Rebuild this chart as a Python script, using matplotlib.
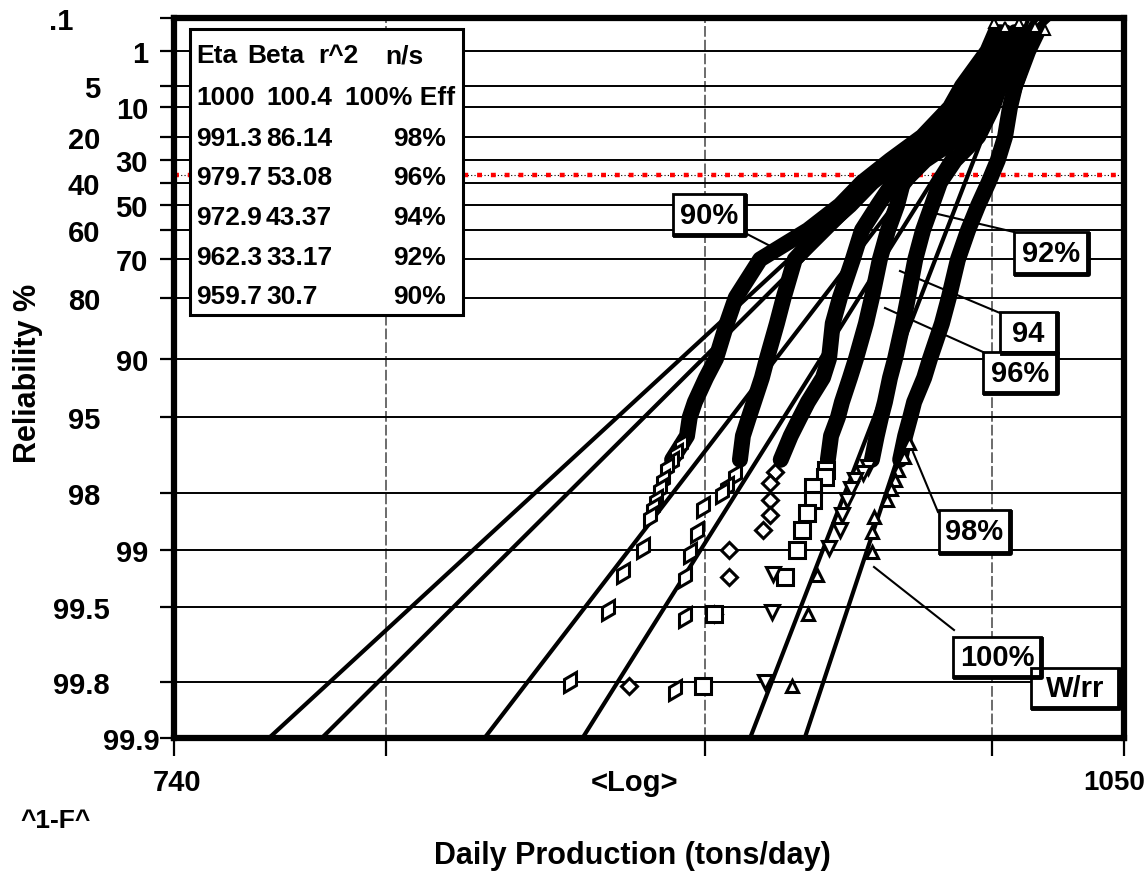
import numpy as np
import matplotlib
matplotlib.use("Agg")
import matplotlib.pyplot as plt
from matplotlib.ticker import NullLocator
from matplotlib.markers import MarkerStyle
from matplotlib.transforms import Affine2D, offset_copy
from matplotlib.patches import Rectangle
from matplotlib.lines import Line2D

plt.rcParams['font.family'] = ['Liberation Sans', 'DejaVu Sans']
plt.rcParams['font.weight'] = 'bold'

W, H = 1147, 873

# ---------------- data ----------------
series = ['90%', '92%', '94%', '96%', '98%', '100%']
eta = [959.7, 962.3, 972.9, 979.7, 991.3, 1000.0]
beta = [30.7, 33.17, 43.37, 53.08, 86.14, 100.4]

# dense part of each data set (reliability %, production)
band_R = [0.3, 1, 5, 10, 20, 30, 40, 50, 60, 70, 80, 85, 90, 92, 94, 95, 96, 97]
band_90 = [1001.5, 998.5, 989.2, 984.8, 974.8, 963.3, 953.4, 945.7, 934.6, 918.3,
           910.1, 907.1, 903.5, 900.2, 896.5, 894.8, 893.9, 889.0]
band_92 = [1003.1, 1000.4, 992.2, 987.7, 978.3, 966.9, 956.9, 949.2, 939.4, 930.1,
           926.3, 924.0, 920.6, 918.9, 916.2, 914.5, 912.5, 911.5]
band_94 = [1005.0, 1002.6, 995.1, 991.1, 983.0, 972.3, 964.4, 959.0, 953.4, 950.2,
           945.7, 943.2, 941.9, 939.8, 934.6, 931.9, 928.7, 925.3]
band_96 = [1008.7, 1005.0, 998.9, 995.1, 988.5, 975.8, 967.9, 965.8, 962.6, 959.7,
           956.9, 954.8, 951.3, 949.2, 946.4, 945.0, 942.6, 941.5]
band_98 = [1011.0, 1008.7, 1003.1, 1000.4, 995.1, 986.6, 981.2, 978.3, 975.1, 972.3,
           969.7, 967.9, 965.1, 963.3, 961.5, 960.1, 958.6, 956.9]
band_100 = [1017.0, 1013.6, 1008.7, 1006.8, 1005.0, 1002.3, 998.9, 995.1, 991.4, 987.7,
            984.4, 981.9, 977.6, 975.5, 971.9, 970.5, 968.7, 966.9]

# sparse lower tail points
tail_90_R = [96.4, 96.8, 97.07, 97.3, 97.64, 97.9, 98.15, 98.32, 98.5, 98.97, 99.24, 99.52, 99.80]
tail_90_x = [891.9, 890.2, 888.9, 887.3, 886.0, 885.0, 883.7, 882.8, 881.8, 879.5, 873.1, 868.3, 856.2]
tail_92_R = [97.5, 97.83, 98.0, 98.30, 98.76, 99.03, 99.28, 99.56, 99.82]
tail_92_x = [910.0, 907.1, 905.5, 899.2, 897.2, 894.8, 893.2, 893.2, 889.9]
tail_94_R = [97.40, 97.73, 98.15, 98.46, 98.72, 99.0, 99.28, 99.54, 99.81]
tail_94_x = [923.3, 921.6, 921.6, 921.6, 919.3, 907.8, 907.8, 902.8, 875.0]
tail_96_R = [97.34, 97.55, 97.83, 98.15, 98.42, 98.72, 99.0, 99.28, 99.54, 99.81]
tail_96_x = [940.8, 940.5, 936.4, 936.4, 934.3, 932.6, 930.8, 926.7, 902.8, 899.2]
tail_98_R = [97.25, 97.43, 97.64, 97.9, 98.15, 98.46, 98.72, 98.97, 99.25, 99.53, 99.80]
tail_98_x = [955.5, 953.8, 950.9, 949.5, 948.1, 946.4, 945.7, 941.9, 922.6, 922.3, 919.9]
tail_100_R = [96.31, 96.88, 97.34, 97.64, 97.9, 98.15, 98.50, 98.76, 99.02, 99.26, 99.54, 99.81]
tail_100_x = [970.1, 968.3, 966.1, 965.1, 963.6, 962.2, 957.6, 956.9, 956.9, 937.7, 934.6, 929.0]

# sparse upper points (near .1 %)
top_R = [0.15, 0.2, 0.15, 0.2, 0.25]
top_x = [1001.0, 1005.0, 1010.0, 1016.0, 1020.0]

char_R = 36.79  # characteristic life line (1/e)

yticks = [0.1, 1, 5, 10, 20, 30, 40, 50, 60, 70, 80, 90, 95, 98, 99, 99.5, 99.8, 99.9]
ytick_labels = ['.1', '1', '5', '10', '20', '30', '40', '50', '60', '70', '80', '90',
                '95', '98', '99', '99.5', '99.8', '99.9']
xticks = [740, 800, 900, 1000, 1050]

table_header = ['Eta', 'Beta', 'r^2', 'n/s']
table_eta = ['1000', '991.3', '979.7', '972.9', '962.3', '959.7']
table_beta = ['100.4', '86.14', '53.08', '43.37', '33.17', '30.7']
table_eff = ['100% Eff', '98%', '96%', '94%', '92%', '90%']

bands = [band_90, band_92, band_94, band_96, band_98, band_100]
tails_R = [tail_90_R, tail_92_R, tail_94_R, tail_96_R, tail_98_R, tail_100_R]
tails_x = [tail_90_x, tail_92_x, tail_94_x, tail_96_x, tail_98_x, tail_100_x]


# ---------------- scales ----------------
def fwd(r):
    r = np.clip(np.asarray(r, dtype=float), 1e-7, 100 - 1e-9)
    return -np.log(-np.log(r / 100.0))


def inv(v):
    return 100.0 * np.exp(-np.exp(-np.asarray(v, dtype=float)))


fig = plt.figure(figsize=(W / 100, H / 100), dpi=100)
ax = fig.add_axes([174 / W, 1 - 738 / H, 950 / W, 720 / H])
ax.set_xscale('log')
ax.set_yscale('function', functions=(fwd, inv))
ax.set_xlim(740, 1050)
ax.set_ylim(99.9, 0.1)

ax.set_xticks(xticks)
ax.set_xticklabels([])
ax.xaxis.set_minor_locator(NullLocator())
ax.set_yticks(yticks)
ax.set_yticklabels([])
ax.yaxis.set_minor_locator(NullLocator())
ax.tick_params(axis='x', length=13, width=1.6, color='black')
ax.tick_params(axis='y', length=10, width=1.6, color='black')
ax.set_axisbelow(True)
ax.grid(axis='y', color='black', lw=1.4, zorder=0.5)
ax.grid(axis='x', color='#444444', lw=1.1, ls=(0, (7, 2)), zorder=0.5)
for s in ax.spines.values():
    s.set_linewidth(4.5)
    s.set_zorder(10)

# characteristic life line
ax.axhline(char_R, color='black', lw=0.8, ls=(0, (1, 2)), zorder=1)
ax.axhline(char_R, color='#ff0000', lw=3.2, ls=(0, (1.1, 2.0)), zorder=1.1)


def fx(px):
    return px / W


def fy(py):
    return 1 - py / H


TF = fig.transFigure

# ---------------- fit lines ----------------
R_ends = np.array([0.1, 99.9])
for e, b in zip(eta, beta):
    xs = e * (-np.log(R_ends / 100.0)) ** (1.0 / b)
    ax.plot(xs, R_ends, color='black', lw=3.0, zorder=3, solid_capstyle='butt')

# ---------------- leader lines (under the data) ----------------
leaders = [((745, 233), (778, 250)), ((1014, 232), (925, 211)), ((1000, 313), (900, 271)),
           ((983, 352), (885, 308)), ((938, 512), (913, 452)), ((954, 630), (874, 567))]
for (x1, y1), (x2, y2) in leaders:
    ax.add_line(Line2D([fx(x1), fx(x2)], [fy(y1), fy(y2)], transform=TF,
                       color='black', lw=1.5, zorder=2.5))

# ---------------- data bands ----------------
for xs in bands:
    ax.plot(xs, band_R, color='black', lw=11.5, solid_capstyle='round',
            solid_joinstyle='round', zorder=4)

slant = MarkerStyle('d', transform=Affine2D().rotate_deg(-28))
markers = [slant, slant, 'D', 's', 'v', '^']
msizes = [12, 12, 8.5, 11, 10, 9]
for xs, rs, m, ms in zip(tails_x, tails_R, markers, msizes):
    ax.plot(xs, rs, ls='none', marker=m, ms=ms, mfc='white', mec='black',
            mew=2.2, zorder=5)
ax.plot(top_x, top_R, ls='none', marker='^', ms=7, mfc='white', mec='black',
        mew=1.5, zorder=5)

# ---------------- y tick labels ----------------
label_right_px = [73, 148, 100, 148, 100, 148, 100, 148, 100, 148, 100, 148,
                  100, 100, 148, 110, 110, 160]
ytrans = ax.get_yaxis_transform()
for r, lab, rx in zip(yticks, ytick_labels, label_right_px):
    t = offset_copy(ytrans, fig=fig, x=rx - 174, y=-4, units='dots')
    ax.text(0, r, lab, transform=t, ha='right', va='center', fontsize=21,
            fontweight='bold', clip_on=False)

# x tick labels
xtrans = ax.get_xaxis_transform()
ax.text(740, 0, '740', transform=offset_copy(xtrans, fig=fig, x=3, y=-45, units='dots'),
        ha='center', va='center', fontsize=21, fontweight='bold', clip_on=False)
ax.text(1050, 0, '1050', transform=offset_copy(xtrans, fig=fig, x=21, y=-45, units='dots'),
        ha='right', va='center', fontsize=20, fontweight='bold', clip_on=False)
fig.text(fx(635), fy(783), '<Log>', ha='center', va='center', fontsize=21, fontweight='bold')
fig.text(fx(56), fy(821), '^1-F^', ha='center', va='center', fontsize=19, fontweight='bold')
fig.text(fx(632), fy(856), 'Daily Production (tons/day)', ha='center', va='center',
         fontsize=22, fontweight='bold')
fig.text(fx(28), fy(373), 'Reliability %', ha='center', va='center', rotation=90,
         fontsize=22, fontweight='bold')

# ---------------- table box ----------------
tb = Rectangle((fx(190), fy(315)), fx(463) - fx(190), fy(29) - fy(315), transform=TF,
               facecolor='white', edgecolor='black', lw=2.2, zorder=6)
ax.add_patch(tb)
row_y = [56, 98, 139, 178, 218, 258, 297]
hdr_x = [196, 247, 318, 385]
tkw = dict(transform=TF, ha='left', va='center', fontsize=19, fontweight='bold', zorder=7)
for s, xx in zip(table_header, hdr_x):
    ax.text(fx(xx), fy(row_y[0]), s, **tkw)
for i in range(6):
    yy = fy(row_y[i + 1])
    ax.text(fx(196), yy, table_eta[i], **tkw)
    ax.text(fx(266), yy, table_beta[i], **tkw)
    ax.text(fx(345 if i == 0 else 393), yy, table_eff[i], **tkw)

# ---------------- label boxes ----------------
boxes = [('90%', 673, 194, 745, 235), ('92%', 1014, 232, 1088, 274),
         ('94', 1000, 312, 1057, 353), ('96%', 983, 352, 1057, 393),
         ('98%', 939, 510, 1010, 553), ('100%', 953, 637, 1041, 677),
         ('W/rr', 1031, 668, 1119, 708)]
for txt, x0, y0, x1, y1 in boxes:
    ax.add_patch(Rectangle((fx(x0), fy(y1)), fx(x1) - fx(x0), fy(y0) - fy(y1),
                           transform=TF, facecolor='white', edgecolor='black',
                           lw=2.0, zorder=8))
    ax.add_line(Line2D([fx(x0 + 2), fx(x1), fx(x1)], [fy(y1), fy(y1), fy(y0 + 2)],
                       transform=TF, color='black', lw=3.5, zorder=8.1))
    ax.text(fx((x0 + x1) / 2), fy((y0 + y1) / 2 + 1), txt, transform=TF, ha='center',
            va='center', fontsize=21, fontweight='bold', zorder=9)

fig.savefig('out.png', dpi=100)
